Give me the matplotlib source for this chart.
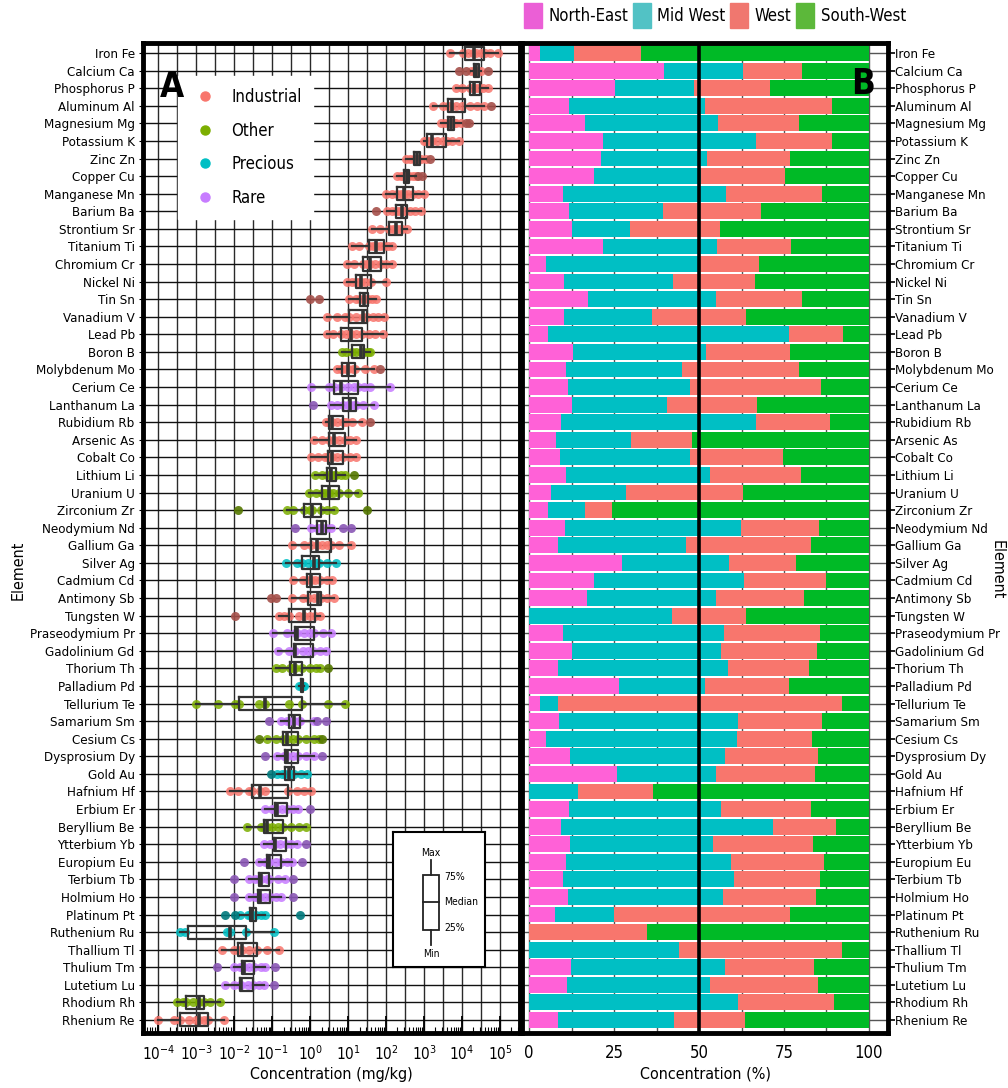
import numpy as np
import matplotlib
matplotlib.use('Agg')
import matplotlib.pyplot as plt
from matplotlib import font_manager
from matplotlib.patches import Patch, Rectangle
from matplotlib.lines import Line2D
from matplotlib.ticker import LogLocator, NullFormatter

# the original uses a narrow sans; take one if the machine has it
narrow = [f.name for f in font_manager.fontManager.ttflist
          if 'Narrow' in f.name or 'Condensed' in f.name or str(f.stretch) in ('condensed', 'semi-condensed', '75', '87')]
base_font = narrow[0] if narrow else 'Liberation Sans'
k = 1.0 if narrow else 0.84
plt.rcParams['font.family'] = [base_font, 'Liberation Sans', 'DejaVu Sans']
plt.rcParams['font.stretch'] = 'condensed'
plt.rcParams['mathtext.fontset'] = 'custom'
plt.rcParams['mathtext.rm'] = base_font

# elements, top to bottom
elements = ['Iron Fe', 'Calcium Ca', 'Phosphorus P', 'Aluminum Al', 'Magnesium Mg', 'Potassium K',
            'Zinc Zn', 'Copper Cu', 'Manganese Mn', 'Barium Ba', 'Strontium Sr', 'Titanium Ti',
            'Chromium Cr', 'Nickel Ni', 'Tin Sn', 'Vanadium V', 'Lead Pb', 'Boron B',
            'Molybdenum Mo', 'Cerium Ce', 'Lanthanum La', 'Rubidium Rb', 'Arsenic As', 'Cobalt Co',
            'Lithium Li', 'Uranium U', 'Zirconium Zr', 'Neodymium Nd', 'Gallium Ga', 'Silver Ag',
            'Cadmium Cd', 'Antimony Sb', 'Tungsten W', 'Praseodymium Pr', 'Gadolinium Gd',
            'Thorium Th', 'Palladium Pd', 'Tellurium Te', 'Samarium Sm', 'Cesium Cs',
            'Dysprosium Dy', 'Gold Au', 'Hafnium Hf', 'Erbium Er', 'Beryllium Be', 'Ytterbium Yb',
            'Europium Eu', 'Terbium Tb', 'Holmium Ho', 'Platinum Pt', 'Ruthenium Ru', 'Thallium Tl',
            'Thulium Tm', 'Lutetium Lu', 'Rhodium Rh', 'Rhenium Re']

I, O, P, R = 'Industrial', 'Other', 'Precious', 'Rare'
category = [I, I, I, I, I, I, I, I, I, I, I, I, I, I, I, I, I, O, I, R, R, I, I, I,
            O, O, O, R, I, P, I, I, I, R, R, O, P, O, R, O, R, P, I, R, O, R,
            R, R, R, P, P, I, R, R, O, I]

# box stats, log10(mg/kg)
q1 = [4.09, 4.31, 4.22, 3.64, 3.64, 3.09, 2.74, 2.48, 2.30, 2.26, 2.08, 1.55, 1.40, 1.20,
      1.31, 1.02, 0.80, 1.09, 0.85, 0.63, 0.87, 0.50, 0.50, 0.48, 0.45, 0.30, -0.17, 0.17,
      0.01, -0.21, -0.08, -0.05, -0.55, -0.39, -0.43, -0.52, -0.25, -1.87, -0.55, -0.72,
      -0.65, -0.67, -1.53, -0.92, -1.22, -0.96, -1.14, -1.36, -1.38, -1.59, -3.22, -1.91,
      -1.80, -1.86, -3.27, -3.43]
med = [4.32, 4.37, 4.33, 3.73, 3.71, 3.21, 2.81, 2.54, 2.48, 2.41, 2.26, 1.73, 1.58, 1.33,
       1.42, 1.40, 1.07, 1.33, 1.00, 0.80, 1.05, 0.58, 0.63, 0.58, 0.54, 0.49, 0.05, 0.30,
       0.17, 0.10, 0.01, 0.20, -0.15, -0.34, -0.39, -0.39, -0.21, -1.18, -0.43, -0.61,
       -0.61, -0.56, -1.31, -0.87, -1.15, -0.92, -1.09, -1.30, -1.33, -1.52, -2.12, -1.80,
       -1.74, -1.81, -2.92, -2.92]
q3 = [4.59, 4.46, 4.48, 4.08, 3.80, 3.58, 2.90, 2.61, 2.70, 2.54, 2.43, 1.95, 1.88, 1.61,
      1.53, 1.51, 1.37, 1.42, 1.18, 1.26, 1.22, 0.86, 0.91, 0.86, 0.69, 0.76, 0.29, 0.43,
      0.56, 0.23, 0.27, 0.29, 0.14, 0.10, 0.07, -0.22, -0.19, -0.21, -0.26, -0.33,
      -0.32, -0.43, -0.59, -0.61, -0.71, -0.64, -0.77, -1.09, -1.05, -1.44, -1.69, -1.40,
      -1.49, -1.51, -2.81, -2.70]
lo = [3.69, 4.25, 3.84, 3.24, 3.44, 3.00, 2.52, 2.28, 1.99, 2.02, 1.64, 1.11, 0.98, 0.98,
      1.02, 0.44, 0.45, 0.85, 0.70, 0.01, 0.56, 0.43, 0.11, 0.01, 0.14, -0.04, -0.61, 0.01,
      -0.48, -0.63, -0.45, -0.48, -0.83, -0.99, -0.85, -0.89, -0.30, -3.00, -0.78, -1.14,
      -0.87, -0.87, -2.11, -1.20, -1.67, -1.21, -1.34, -1.60, -1.62, -1.84, -3.44, -2.33,
      -2.00, -2.24, -3.52, -4.00]
hi = [4.94, 4.50, 4.68, 4.59, 3.97, 3.93, 3.05, 2.78, 2.99, 2.92, 2.56, 2.17, 2.17, 1.99,
      1.73, 1.95, 1.93, 1.59, 1.68, 2.11, 1.68, 1.37, 1.22, 1.22, 0.93, 1.26, 0.63, 0.63,
      1.08, 0.69, 0.58, 0.63, 0.27, 0.54, 0.41, 0.27, -0.17, 0.91, 0.10, 0.23,
      0.10, -0.08, 0.01, -0.33, -0.11, -0.34, -0.48, -0.65, -0.78, -1.18, -0.96, -0.83,
      -1.18, -1.22, -2.37, -2.28]

# sample points, log10(mg/kg)
points = [
    [3.69, 4.02, 4.15, 4.28, 4.37, 4.50, 4.60, 4.73, 4.94],
    [3.93, 4.11, 4.25, 4.32, 4.37, 4.42, 4.50, 4.68],
    [3.84, 4.00, 4.20, 4.30, 4.36, 4.45, 4.55, 4.68],
    [3.24, 3.50, 3.64, 3.72, 3.85, 4.00, 4.20, 4.40, 4.59, 4.77],
    [3.44, 3.55, 3.65, 3.71, 3.78, 3.85, 3.97, 4.11, 4.19],
    [3.00, 3.05, 3.12, 3.21, 3.35, 3.50, 3.60, 3.75, 3.93],
    [2.52, 2.62, 2.74, 2.80, 2.84, 2.92, 3.05, 3.16],
    [2.28, 2.40, 2.48, 2.54, 2.60, 2.72, 2.78, 2.85, 2.96],
    [1.99, 2.15, 2.30, 2.40, 2.48, 2.58, 2.70, 2.85, 2.99],
    [1.73, 2.02, 2.15, 2.26, 2.35, 2.41, 2.50, 2.62, 2.75, 2.92],
    [1.64, 1.85, 2.08, 2.18, 2.26, 2.35, 2.43, 2.56],
    [1.11, 1.30, 1.55, 1.65, 1.73, 1.85, 1.95, 2.05, 2.17],
    [0.98, 1.15, 1.40, 1.50, 1.58, 1.70, 1.88, 2.00, 2.17],
    [0.98, 1.10, 1.20, 1.28, 1.33, 1.45, 1.61, 1.99],
    [0.00, 0.22, 1.02, 1.20, 1.31, 1.42, 1.53, 1.62, 1.73],
    [0.44, 0.72, 0.92, 1.02, 1.20, 1.40, 1.51, 1.65, 1.80, 1.95],
    [0.45, 0.60, 0.80, 0.95, 1.07, 1.20, 1.37, 1.55, 1.70, 1.93],
    [0.85, 0.95, 1.09, 1.20, 1.33, 1.42, 1.52, 1.59],
    [0.70, 0.80, 0.85, 0.95, 1.00, 1.12, 1.18, 1.45, 1.68, 1.84],
    [0.01, 0.50, 0.63, 0.80, 1.00, 1.15, 1.26, 1.42, 1.58, 2.11],
    [0.08, 0.56, 0.70, 0.87, 1.00, 1.05, 1.15, 1.22, 1.40, 1.68],
    [0.43, 0.50, 0.58, 0.70, 0.86, 0.95, 1.10, 1.37, 1.59],
    [0.11, 0.30, 0.50, 0.63, 0.75, 0.91, 1.05, 1.22],
    [0.01, 0.20, 0.40, 0.48, 0.58, 0.70, 0.86, 1.05, 1.22],
    [0.14, 0.30, 0.45, 0.54, 0.62, 0.69, 0.80, 0.93, 1.15],
    [-0.04, 0.15, 0.30, 0.40, 0.49, 0.60, 0.76, 1.00, 1.26],
    [-1.90, -0.61, -0.45, -0.17, 0.00, 0.05, 0.29, 0.45, 0.63, 1.49],
    [-0.39, 0.01, 0.17, 0.25, 0.30, 0.43, 0.55, 0.87, 1.08],
    [-0.48, -0.15, 0.01, 0.17, 0.30, 0.45, 0.56, 0.75, 1.08],
    [-0.63, -0.35, -0.21, -0.05, 0.10, 0.18, 0.23, 0.45, 0.69],
    [-0.45, -0.20, -0.08, 0.01, 0.12, 0.27, 0.45, 0.58],
    [-1.02, -0.90, -0.48, -0.20, -0.05, 0.10, 0.20, 0.29, 0.45, 0.63],
    [-1.99, -0.83, -0.70, -0.55, -0.30, -0.15, 0.00, 0.14, 0.27],
    [-0.99, -0.60, -0.39, -0.34, -0.15, 0.00, 0.10, 0.35, 0.54],
    [-0.85, -0.55, -0.43, -0.39, -0.20, -0.05, 0.07, 0.25, 0.41],
    [-0.89, -0.75, -0.52, -0.45, -0.39, -0.22, 0.00, 0.15, 0.27, 0.47],
    [-0.30, -0.25, -0.21, -0.19, -0.17],
    [-3.00, -2.44, -1.97, -1.87, -1.36, -1.18, -0.56, -0.21, 0.47, 0.91],
    [-1.09, -0.78, -0.60, -0.55, -0.43, -0.30, -0.26, 0.10, 0.17, 0.41],
    [-1.36, -1.14, -0.90, -0.72, -0.61, -0.45, -0.33, -0.10, 0.10, 0.23, 0.32],
    [-1.20, -0.87, -0.70, -0.65, -0.61, -0.45, -0.32, -0.10, 0.10, 0.30],
    [-1.02, -0.87, -0.75, -0.67, -0.56, -0.50, -0.43, -0.25, -0.08],
    [-2.11, -1.90, -1.60, -1.53, -1.31, -1.20, -0.59, -0.35, -0.15, 0.01],
    [-1.20, -1.00, -0.92, -0.87, -0.75, -0.61, -0.45, -0.33, -0.01],
    [-1.67, -1.30, -1.22, -1.15, -1.00, -0.85, -0.71, -0.50, -0.30, -0.11],
    [-1.21, -1.05, -0.96, -0.92, -0.80, -0.64, -0.50, -0.34, -0.12],
    [-1.75, -1.34, -1.20, -1.14, -1.09, -0.90, -0.77, -0.60, -0.48, -0.21],
    [-2.00, -1.60, -1.45, -1.36, -1.30, -1.15, -1.09, -0.85, -0.65, -0.45],
    [-2.00, -1.62, -1.45, -1.38, -1.33, -1.20, -1.05, -0.90, -0.78, -0.45],
    [-2.24, -1.99, -1.84, -1.65, -1.59, -1.52, -1.44, -1.30, -1.18, -0.27],
    [-3.44, -3.30, -2.20, -2.12, -1.69, -0.96],
    [-2.33, -2.00, -1.91, -1.80, -1.60, -1.40, -1.15, -0.83],
    [-2.46, -2.00, -1.85, -1.80, -1.74, -1.60, -1.49, -1.30, -1.18, -0.92],
    [-2.24, -2.00, -1.86, -1.81, -1.65, -1.51, -1.35, -1.22, -0.96],
    [-3.52, -3.35, -3.27, -3.10, -2.92, -2.81, -2.65, -2.37],
    [-4.00, -3.60, -3.43, -3.20, -3.00, -2.92, -2.80, -2.70, -2.28],
]

# share by region (%)
regions = ['North-East', 'Mid West', 'West', 'South-West']
ne = [3.1, 39.6, 25.2, 11.7, 16.4, 21.7, 21.1, 19.0, 10.0, 11.7, 12.5, 21.7, 4.9, 10.2,
      17.3, 10.2, 5.5, 12.8, 10.8, 11.4, 12.5, 9.3, 7.8, 9.0, 10.8, 6.4, 5.5, 10.5,
      8.4, 27.3, 19.0, 17.0, 0.0, 9.9, 12.5, 8.4, 26.4, 3.1, 8.7, 4.9, 12.0, 25.8,
      0.0, 11.7, 9.3, 12.0, 10.8, 10.0, 11.4, 7.5, 0.0, 0.0, 12.3, 11.1, 0.0, 8.4]
mw = [10.0, 23.3, 23.2, 40.0, 39.1, 45.0, 31.3, 31.7, 47.8, 27.7, 17.1, 33.6, 45.1, 32.1,
      37.6, 25.9, 70.9, 39.1, 34.1, 35.9, 28.0, 57.4, 22.1, 38.3, 42.3, 22.0, 10.9, 51.8,
      37.7, 31.4, 44.1, 37.9, 42.0, 47.4, 43.9, 50.0, 25.3, 5.3, 52.7, 56.2, 45.5, 29.1,
      14.3, 44.7, 62.4, 42.0, 48.5, 50.2, 45.6, 17.4, 0.0, 44.0, 45.2, 42.0, 61.4, 34.1]
we = [19.7, 17.3, 22.4, 37.3, 23.8, 22.3, 24.3, 24.5, 28.3, 28.7, 26.5, 21.7, 17.5, 24.1,
      25.3, 27.6, 16.1, 24.8, 34.4, 38.5, 26.5, 21.7, 17.9, 27.3, 26.8, 34.4, 7.9, 22.9,
      36.7, 19.7, 24.2, 26.1, 21.7, 28.2, 28.2, 23.9, 24.7, 83.6, 24.7, 22.0, 27.4, 29.1,
      22.1, 26.4, 18.5, 29.4, 27.4, 25.3, 27.3, 51.8, 34.6, 48.0, 26.2, 31.8, 28.2, 20.9]
sw = [67.2, 19.8, 29.2, 11.0, 20.7, 11.0, 23.3, 24.8, 13.9, 31.9, 43.9, 23.0, 32.5, 33.6,
      19.8, 36.3, 7.5, 23.3, 20.7, 14.2, 33.0, 11.6, 52.2, 25.4, 20.1, 37.2, 75.7, 14.8,
      17.2, 21.6, 12.7, 19.0, 36.3, 14.5, 15.4, 17.7, 23.6, 8.0, 13.9, 16.9, 15.1, 16.0,
      63.6, 17.2, 9.8, 16.6, 13.3, 14.5, 15.7, 23.3, 65.4, 8.0, 16.3, 15.1, 10.4, 36.6]

cat_colors = {I: '#F8766D', O: '#7CAE00', P: '#00BFC4', R: '#C77CFF'}
cat_dark = {I: '#A5504A', O: '#557800', P: '#00797C', R: '#8A57B5'}
bar_colors = ['#FF61D7', '#00BFC4', '#F8766D', '#00BA26']
legend_colors = ['#EB5FD6', '#52C2C5', '#F0776F', '#5CB83A']

W, H = 1008, 1088


def px(x0, y0, x1, y1):
    return [x0 / W, 1 - y1 / H, (x1 - x0) / W, (y1 - y0) / H]


fig = plt.figure(figsize=(W / 100, H / 100), dpi=100)
axA = fig.add_axes(px(143, 43, 520, 1033))
axB = fig.add_axes(px(522, 43, 888, 1033))
n = len(elements)
ypos = np.arange(n)

# ---- panel A ----
axA.set_xscale('log')
for e in np.arange(-4.5, 5.51, 0.5):
    axA.axvline(10 ** e, color='#2a2a2a', lw=1.0, zorder=0)
for y in ypos:
    axA.axhline(y, color='#111111', lw=1.0, zorder=0)

for i in range(n):
    v = np.array(points[i])
    inside = (v >= lo[i] - 1e-9) & (v <= hi[i] + 1e-9)
    cat = category[i]
    axA.scatter(10 ** v[inside], np.full(inside.sum(), i), s=42, color=cat_colors[cat],
                alpha=0.85, lw=0, zorder=2)
    axA.scatter(10 ** v[~inside], np.full((~inside).sum(), i), s=42, color=cat_dark[cat],
                alpha=0.9, lw=0, zorder=2)

stats = [dict(q1=10 ** q1[i], med=10 ** med[i], q3=10 ** q3[i], whislo=10 ** lo[i],
              whishi=10 ** hi[i], fliers=[]) for i in range(n)]
axA.bxp(stats, positions=ypos, widths=0.74, orientation='horizontal', showcaps=False,
        showfliers=False, manage_ticks=False, zorder=3,
        boxprops=dict(color='#333333', lw=1.6),
        whiskerprops=dict(color='#333333', lw=1.6),
        medianprops=dict(color='#333333', lw=2.6))

axA.set_xlim(10 ** -4.405, 10 ** 5.53)
axA.set_ylim(n - 1 + 0.74, -0.57)
axA.set_xticks([10.0 ** e for e in range(-4, 6)])
axA.xaxis.set_minor_locator(LogLocator(base=10, subs=np.arange(2, 10), numticks=30))
axA.xaxis.set_minor_formatter(NullFormatter())
axA.tick_params(axis='x', which='major', direction='in', length=12, width=1.3,
                labelsize=11 * k, pad=8)
axA.tick_params(axis='x', which='minor', direction='in', length=4, width=0.8)
axA.set_yticks(ypos, elements)
axA.tick_params(axis='y', length=3, labelsize=9.5 * k, pad=3)
for s in axA.spines.values():
    s.set_linewidth(3.5)
axA.set_xlabel('Concentration (mg/kg)', fontsize=11.5 * k, labelpad=3)
fig.text(18 / W, 1 - 570 / H, 'Element', rotation=90, ha='center', va='center', fontsize=11.5 * k)

handles = [Line2D([], [], marker='o', ls='', color=cat_colors[c], markersize=6.5)
           for c in [I, O, P, R]]
leg = axA.legend(handles, [I, O, P, R], loc='upper left', bbox_to_anchor=(178 / W, 1 - 76 / H),
                 bbox_transform=fig.transFigure, fontsize=12 * k, frameon=True, fancybox=False,
                 framealpha=1, edgecolor='white', borderaxespad=0, borderpad=0.7,
                 labelspacing=0.95, handletextpad=0.7, handlelength=1.8)
leg.set_zorder(5)
axA.text(0.045, 0.973, 'A', transform=axA.transAxes, fontsize=25 * k, fontweight='bold',
         va='top', ha='left', zorder=6)

# box key inset
axK = fig.add_axes(px(393, 832, 485, 967))
axK.set_xlim(0, 92)
axK.set_ylim(135, 0)
axK.set_xticks([])
axK.set_yticks([])
for s in axK.spines.values():
    s.set_linewidth(1.5)
axK.add_patch(Rectangle((30, 43), 16, 55, fill=False, lw=1.3, ec='#222222'))
axK.plot([30, 46], [70, 70], color='#222222', lw=1.3)
axK.plot([38, 38], [28, 43], color='#222222', lw=1.3)
axK.plot([38, 38], [98, 113], color='#222222', lw=1.3)
kf = 7.5 * k
axK.text(38, 21, 'Max', ha='center', va='center', fontsize=kf)
axK.text(38, 122, 'Min', ha='center', va='center', fontsize=kf)
axK.text(51, 45, '75%', ha='left', va='center', fontsize=kf)
axK.text(51, 70, 'Median', ha='left', va='center', fontsize=kf)
axK.text(51, 96, '25%', ha='left', va='center', fontsize=kf)

# ---- panel B ----
left = np.zeros(n)
for vals, col in zip([ne, mw, we, sw], bar_colors):
    axB.barh(ypos, vals, left=left, height=0.9, color=col, lw=0, zorder=2)
    left += np.array(vals)
axB.axvline(50, color='black', lw=2.6, zorder=4)
axB.set_xlim(-2.1, 105.6)
axB.set_ylim(n - 1 + 0.74, -0.57)
axB.set_xticks([0, 25, 50, 75, 100])
axB.set_xticks(np.arange(0, 101, 12.5), minor=True)
axB.grid(which='both', axis='x', color='#555555', lw=1.0)
axB.grid(which='major', axis='y', color='#555555', lw=1.0)
axB.set_axisbelow(True)
axB.tick_params(axis='x', which='both', length=0, labelsize=12 * k, pad=8)
axB.yaxis.tick_right()
axB.set_yticks(ypos, elements)
axB.tick_params(axis='y', length=5, width=1.2, labelsize=9.5 * k, pad=0)
for s in axB.spines.values():
    s.set_linewidth(3.5)
axB.set_xlabel('Concentration (%)', fontsize=11.5 * k, labelpad=3)
fig.text(997 / W, 1 - 570 / H, 'Element', rotation=270, ha='center', va='center', fontsize=11.5 * k)
axB.text(0.899, 0.976, 'B', transform=axB.transAxes, fontsize=25 * k, fontweight='bold',
         va='top', ha='left', zorder=6)

fig.legend([Patch(color=c) for c in legend_colors], regions, loc='upper left',
           bbox_to_anchor=(524 / W, 1 - 3 / H), ncol=4, frameon=False, fontsize=12 * k,
           handlelength=1.05, handleheight=1.9, handletextpad=0.4, columnspacing=0.3,
           borderaxespad=0, borderpad=0)

fig.savefig('out.png', dpi=100)
